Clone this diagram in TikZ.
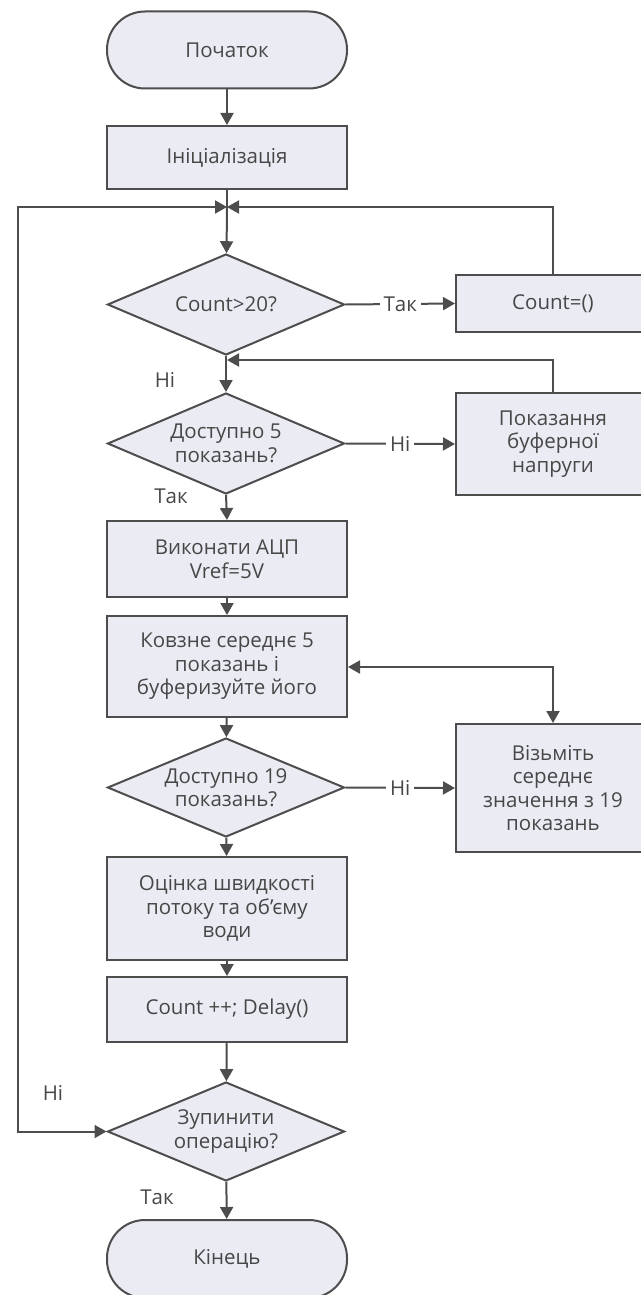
\documentclass[tikz,border=0pt]{standalone}
\usepackage{fontspec}
\setmainfont{Open Sans}
\usetikzlibrary{arrows.meta,shapes.geometric}
\definecolor{boxfill}{HTML}{EBECF3}
\definecolor{linec}{HTML}{4D4D4D}
\definecolor{txt}{HTML}{474747}
\begin{document}
\begin{tikzpicture}[x=1pt,y=-1pt,
  every node/.style={font=\fontsize{20.5}{23.5}\selectfont, text=txt},
  base/.style={draw=linec, line width=2pt, fill=boxfill, align=center, inner sep=0pt},
  procbox/.style={base, rectangle, minimum width=240pt},
  sidebox/.style={base, rectangle, minimum width=194pt},
  termbox/.style={base, rectangle, rounded corners=38pt, minimum width=240pt},
  decbox/.style={base, diamond, aspect=2.35, minimum width=237pt, minimum height=101pt},
  conn/.style={draw=linec, line width=2pt, -{Triangle[length=12pt,width=13pt]}},
  bconn/.style={draw=linec, line width=2pt, {Triangle[length=12pt,width=13pt]}-{Triangle[length=12pt,width=13pt]}},
  plain/.style={draw=linec, line width=2pt},
  lbl/.style={inner sep=3pt},
  onlbl/.style={fill=white, inner sep=4pt}]
\useasboundingbox (0,0) rectangle (640,1295);
\node[termbox, minimum height=77pt] (start) at (227,50) {Початок};
\node[procbox, minimum height=63pt] (init) at (227,157.5) {Ініціалізація};
\coordinate (m1) at (227,207);
\node[decbox] (d1) at (226,304.5) {Count>20?};
\node[sidebox, minimum height=57pt] (cnt0) at (553,303.5) {Count=()};
\coordinate (m2) at (227,360);
\node[decbox] (d2) at (226,443.5) {Доступно 5\\показань?};
\node[sidebox, minimum height=102pt] (buf) at (553,444) {Показання\\буферної\\напруги};
\node[procbox, minimum height=76pt] (adc) at (227,559) {Виконати АЦП\\Vref=5V};
\node[procbox, minimum height=101pt] (avg) at (227,666.5) {Ковзне середнє 5\\показань і\\буферизуйте його};
\node[decbox, minimum height=99pt] (d3) at (226,787.5) {Доступно 19\\показань?};
\node[sidebox, minimum height=128pt] (take) at (553,788) {Візьміть\\середнє\\значення з 19\\показань};
\node[procbox, minimum height=103pt] (est) at (227,908.5) {Оцінка швидкості\\потоку та об’єму\\води};
\node[procbox, minimum height=65pt] (cnt) at (227,1009.5) {Count ++; Delay()};
\node[decbox, minimum height=99pt] (d4) at (226,1131.5) {Зупинити\\операцію?};
\node[termbox, minimum height=78pt] (end) at (227,1259) {Кінець};
\coordinate (lx) at (18,0);
\coordinate (av) at (553,667);
% main flow
\draw[conn] (start) -- (init);
\draw[plain] (init) -- (m1);
\draw[conn] (m1) -- (d1);
\draw[conn] (d1.east) -- node[onlbl] (l1) {Так} (cnt0.west);
\draw[conn] (cnt0.north) |- (m1);
\draw[conn] (d1.south) -- (d2.north);
\node[lbl] (l2) at (165,380) {Ні};
\draw[conn] (buf.north) |- (m2);
\draw[conn] (d2.east) -- node[onlbl] (l3) {Ні} (buf.west);
\draw[conn] (d2.south) -- (adc.north);
\node[lbl] (l4) at (171,496) {Так};
\draw[conn] (adc) -- (avg);
\draw[conn] (avg) -- (d3);
\draw[conn] (d3.east) -- node[onlbl] (l5) {Ні} (take.west);
\draw[bconn] (avg.east |- av) -- (av) -- (take.north);
\draw[conn] (d3) -- (est);
\draw[conn] (est) -- (cnt);
\draw[conn] (cnt) -- (d4);
\draw[conn] (d4) -- (end);
\node[lbl] (l6) at (157,1197) {Так};
\draw[bconn] (d4.west) -- (lx |- d4.west) -- (lx |- m1) -- (m1);
\node[lbl] (l7) at (53,1093) {Ні};
\end{tikzpicture}
\end{document}
